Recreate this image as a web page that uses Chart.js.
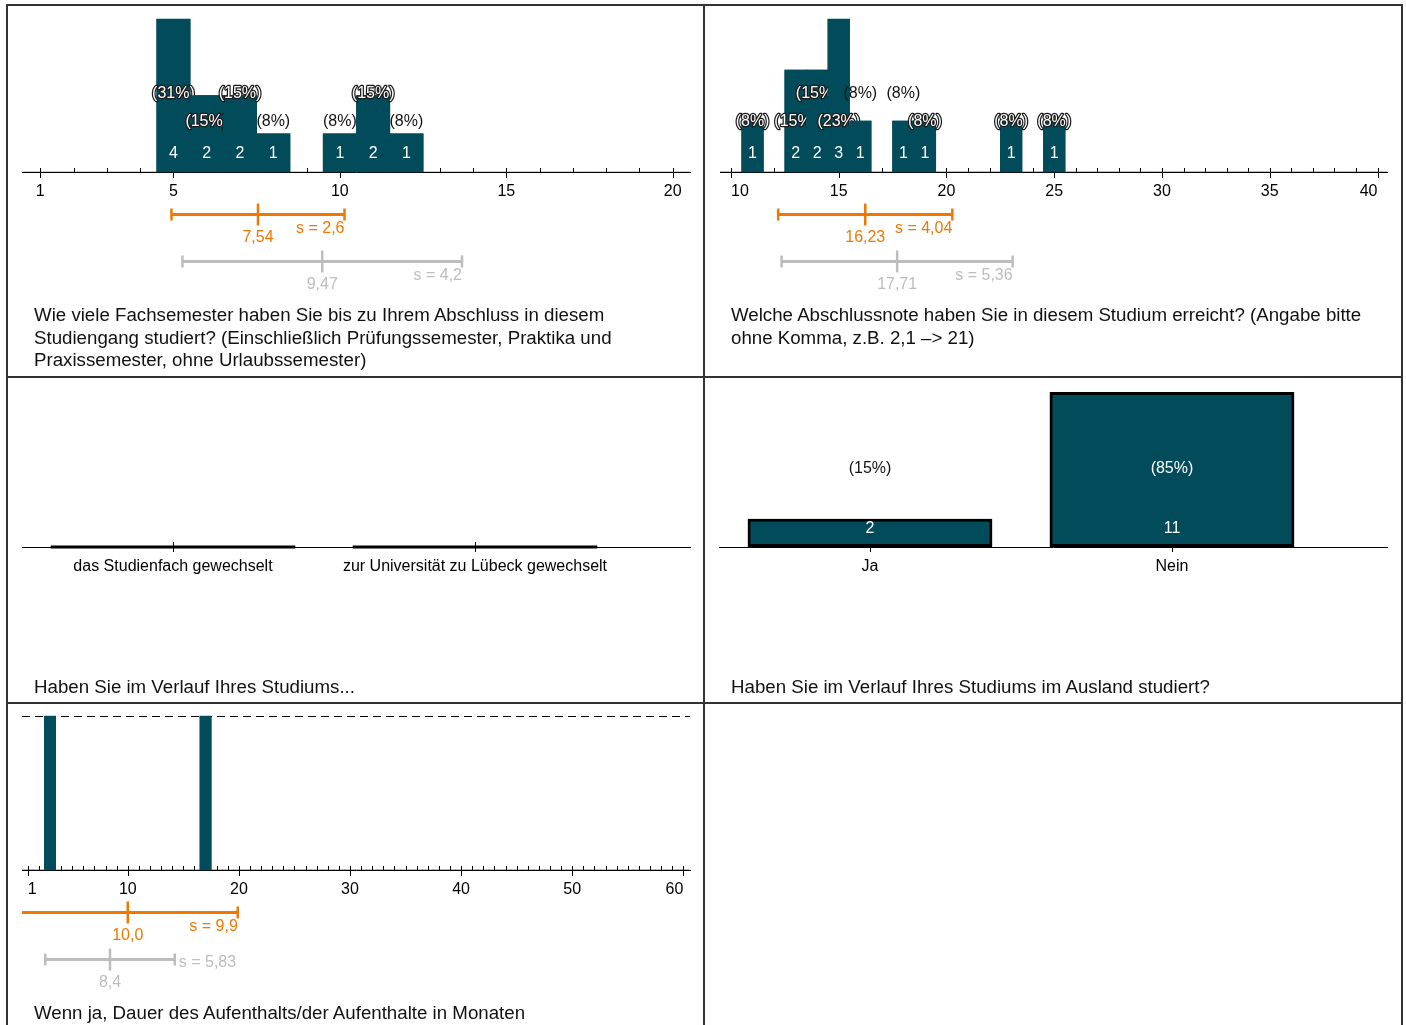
<!DOCTYPE html>
<html>
<head>
<meta charset="utf-8">
<script src="https://cdn.jsdelivr.net/npm/chart.js@4.4.1/dist/chart.umd.min.js"></script>
<style>
  html, body { margin: 0; padding: 0; background: #fff; }
  body { width: 1406px; height: 1025px; overflow: hidden; position: relative;
         font-family: "Liberation Sans", Arial, sans-serif; }
  .ln { position: absolute; background: #333; }
  canvas { position: absolute; }
  .q { position: absolute; font-size: 18.7px; line-height: 22.5px; color: #111; white-space: nowrap; }
</style>
</head>
<body>
<div class="ln" style="left:6px;top:4px;width:1397px;height:2px"></div>
<div class="ln" style="left:6px;top:4px;width:2px;height:1021px"></div>
<div class="ln" style="left:703px;top:4px;width:2px;height:1021px"></div>
<div class="ln" style="left:1401px;top:4px;width:2px;height:1021px"></div>
<div class="ln" style="left:6px;top:376px;width:1397px;height:2px"></div>
<div class="ln" style="left:6px;top:702px;width:1397px;height:2px"></div>

<canvas id="c1" width="697" height="300" style="left:7px;top:6px"></canvas>
<canvas id="c2" width="697" height="300" style="left:705px;top:6px"></canvas>
<canvas id="c3" width="697" height="300" style="left:7px;top:377px"></canvas>
<canvas id="c4" width="697" height="300" style="left:705px;top:377px"></canvas>
<canvas id="c5" width="697" height="300" style="left:7px;top:704px"></canvas>

<div class="q" id="q1" style="left:34px;top:304px"></div>
<div class="q" id="q2" style="left:731px;top:304px"></div>
<div class="q" id="q3" style="left:34px;top:676px"></div>
<div class="q" id="q4" style="left:731px;top:676px"></div>
<div class="q" id="q5" style="left:34px;top:1002px"></div>

<script>
// ---------- DATA ----------
// Panel 1: Fachsemester
const p1Values = [5, 6, 7, 8, 10, 11, 12];
const p1Counts = [4, 2, 2, 1, 1, 2, 1];
const p1Ticks = [1, 5, 10, 15, 20];
const p1Means = ['7,54', '9,47'];
const p1Sds = ['2,6', '4,2'];
const p1Question = ['Wie viele Fachsemester haben Sie bis zu Ihrem Abschluss in diesem',
  'Studiengang studiert? (Einschließlich Prüfungssemester, Praktika und',
  'Praxissemester, ohne Urlaubssemester)'];

// Panel 2: Abschlussnote
const p2Values = [11, 13, 14, 15, 16, 18, 19, 23, 25];
const p2Counts = [1, 2, 2, 3, 1, 1, 1, 1, 1];
const p2Ticks = [10, 15, 20, 25, 30, 35, 40];
const p2Means = ['16,23', '17,71'];
const p2Sds = ['4,04', '5,36'];
const p2Question = ['Welche Abschlussnote haben Sie in diesem Studium erreicht? (Angabe bitte',
  'ohne Komma, z.B. 2,1 –> 21)'];

// Panel 3: Wechsel
const p3Categories = ['das Studienfach gewechselt', 'zur Universität zu Lübeck gewechselt'];
const p3Counts = [0, 0];
const p3Question = ['Haben Sie im Verlauf Ihres Studiums...'];

// Panel 4: Ausland
const p4Categories = ['Ja', 'Nein'];
const p4Counts = [2, 11];
const p4Question = ['Haben Sie im Verlauf Ihres Studiums im Ausland studiert?'];

// Panel 5: Dauer Aufenthalt
const p5Values = [3, 17];
const p5Counts = [1, 1];
const p5Ticks = [1, 10, 20, 30, 40, 50, 60];
const p5Means = ['10,0', '8,4'];
const p5Sds = ['9,9', '5,83'];
const p5Question = ['Wenn ja, Dauer des Aufenthalts/der Aufenthalte in Monaten'];

// ---------- STYLE ----------
const BAR = '#024b5a';
const ORANGE = '#f07800';
const GREY = '#bdbdbd';
const FONT = '"Liberation Sans", Arial, sans-serif';
const FS = 16;
Chart.defaults.font.family = FONT;
Chart.defaults.font.size = FS;
Chart.defaults.color = '#000';

const num = s => parseFloat(s.replace(',', '.'));

function histData(values, counts, ticks) {
  const out = [];
  for (let v = ticks[0]; v <= ticks[ticks.length - 1]; v++) {
    const k = values.indexOf(v);
    out.push({ x: v, y: k >= 0 ? counts[k] : 0 });
  }
  return out;
}
function minorTicks(ticks) {
  const out = [];
  for (let v = ticks[0]; v <= ticks[ticks.length - 1]; v++) out.push(v);
  return out;
}

function seg(ctx, x1, y1, x2, y2) {
  ctx.beginPath(); ctx.moveTo(x1, y1); ctx.lineTo(x2, y2); ctx.stroke();
}

const deco = {
  id: 'deco',
  beforeDatasetsDraw(chart, args, o) {
    const { ctx, chartArea: ca } = chart;
    const xs = chart.scales.x;
    const base = ca.bottom;
    ctx.save();
    ctx.strokeStyle = '#000';
    ctx.lineWidth = 1;
    (o.minor || []).forEach(v => {
      const px = Math.round(xs.getPixelForValue(v)) + 0.5;
      seg(ctx, px, base - 4, px, base);
    });
    (o.major || []).forEach(v => {
      const px = Math.round(xs.getPixelForValue(v)) + 0.5;
      seg(ctx, px, base - o.majUp, px, base + o.majDown);
    });
    if (o.dashedTop) {
      ctx.setLineDash([8, 5]);
      seg(ctx, ca.left, Math.round(ca.top) + 0.5, ca.right, Math.round(ca.top) + 0.5);
      ctx.setLineDash([]);
    }
    ctx.restore();
  },
  afterDatasetsDraw(chart, args, o) {
    const { ctx, chartArea: ca } = chart;
    const base = ca.bottom;
    const meta = chart.getDatasetMeta(0);
    const ds = chart.data.datasets[0];
    const total = ds.data.reduce((a, d) => a + d.y, 0);
    ctx.save();
    meta.data.forEach((el, i) => {
      const d = ds.data[i];
      if (d.y === 0) {
        if (o.zeroLine) {
          ctx.strokeStyle = '#000'; ctx.lineWidth = 3;
          seg(ctx, el.x - el.width / 2, base, el.x + el.width / 2, base);
        }
        return;
      }
      el.draw(ctx);
      if (!o.labels) return;
      ctx.font = FS + 'px ' + FONT;
      ctx.textAlign = 'center';
      ctx.textBaseline = 'middle';
      ctx.fillStyle = '#fff';
      ctx.fillText(String(d.y), el.x, base - 18);
      const pct = '(' + Math.round(d.y / total * 100) + '%)';
      const upper = o.stagger ? ((d.x - o.staggerFrom) % 2 === 0) : true;
      const ly = base - (upper ? 78 : 50);
      if (ly + 7 > el.y) {
        ctx.lineWidth = 2.5; ctx.lineJoin = 'round';
        ctx.strokeStyle = '#1a1a1a';
        if (!o.noHalo) ctx.strokeText(pct, el.x, ly);
        ctx.fillStyle = '#fff';
        ctx.fillText(pct, el.x, ly);
      } else {
        ctx.fillStyle = '#111';
        ctx.fillText(pct, el.x, ly);
      }
    });
    ctx.restore();
  },
  afterDraw(chart, args, o) {
    if (!o.stats) return;
    const { ctx, chartArea: ca } = chart;
    const xs = chart.scales.x;
    const base = ca.bottom;
    ctx.save();
    o.stats.forEach(s => {
      const m = num(s.mean), sd = num(s.sd);
      const y = Math.round(base + s.dy) + 0.5;
      let x1 = xs.getPixelForValue(m - sd), x2 = xs.getPixelForValue(m + sd);
      const xm = xs.getPixelForValue(m);
      const cap1 = x1 >= ca.left, cap2 = x2 <= ca.right;
      x1 = Math.max(x1, ca.left); x2 = Math.min(x2, ca.right);
      ctx.strokeStyle = s.color;
      ctx.lineWidth = 3;
      seg(ctx, x1, y, x2, y);
      ctx.lineWidth = 2.5;
      if (cap1) seg(ctx, x1, y - 6, x1, y + 6);
      if (cap2) seg(ctx, x2, y - 6, x2, y + 6);
      seg(ctx, xm, y - 11, xm, y + 11);
      ctx.fillStyle = s.color;
      ctx.font = FS + 'px ' + FONT;
      ctx.textBaseline = 'middle';
      ctx.textAlign = 'center';
      ctx.fillText(s.mean, xm, y + 23);
      const sdText = 's = ' + s.sd;
      const w = ctx.measureText(sdText).width;
      const mw = ctx.measureText(s.mean).width;
      if (x2 - w < xm + mw / 2 + 2) {
        ctx.textAlign = 'left';
        ctx.fillText(sdText, x2 + 4, y + 3);
      } else {
        ctx.textAlign = 'right';
        ctx.fillText(sdText, x2, y + 14);
      }
    });
    ctx.restore();
  }
};

function makeChart(id, cfg) {
  const xScale = {
    type: 'linear',
    min: cfg.min, max: cfg.max,
    offset: false,
    grid: { display: false, drawTicks: false },
    border: { display: true, color: '#000', width: 1 },
    ticks: {
      padding: 10,
      align: cfg.align || 'center',
      maxRotation: 0,
      autoSkip: false,
      callback: cfg.tickLabel || (v => String(v))
    },
    afterBuildTicks: s => { s.ticks = cfg.majors.map(v => ({ value: v })); },
    afterFit: s => { s.height = 30; }
  };
  return new Chart(document.getElementById(id), {
    type: 'bar',
    data: {
      datasets: [{
        data: cfg.data,
        backgroundColor: BAR,
        borderColor: '#000',
        borderWidth: cfg.border || 0,
        borderSkipped: false,
        barPercentage: 1,
        categoryPercentage: cfg.catPct || 1
      }]
    },
    options: {
      responsive: false,
      animation: false,
      devicePixelRatio: 1,
      layout: { padding: cfg.pad },
      scales: {
        x: xScale,
        y: { display: false, min: 0, max: cfg.yMax }
      },
      plugins: {
        legend: { display: false },
        tooltip: { enabled: false },
        deco: cfg.deco
      }
    },
    plugins: [deco]
  });
}

// Panel 1
makeChart('c1', {
  data: histData(p1Values, p1Counts, p1Ticks),
  min: 0.45, max: 20.52, yMax: Math.max(...p1Counts),
  majors: p1Ticks,
  pad: { left: 15, right: 14, top: 13, bottom: 104 },
  deco: {
    minor: minorTicks(p1Ticks), major: p1Ticks, majUp: 4, majDown: 6,
    labels: true, stagger: true, staggerFrom: p1Ticks[0],
    stats: [
      { mean: p1Means[0], sd: p1Sds[0], color: ORANGE, dy: 42 },
      { mean: p1Means[1], sd: p1Sds[1], color: GREY, dy: 89 }
    ]
  }
});

// Panel 2
makeChart('c2', {
  data: histData(p2Values, p2Counts, p2Ticks),
  min: 9.49, max: 40.44, yMax: Math.max(...p2Counts),
  majors: p2Ticks, align: 'inner',
  pad: { left: 15, right: 15, top: 13, bottom: 104 },
  deco: {
    minor: minorTicks(p2Ticks), major: p2Ticks, majUp: 4, majDown: 6,
    labels: true, stagger: true, staggerFrom: p2Ticks[0],
    stats: [
      { mean: p2Means[0], sd: p2Sds[0], color: ORANGE, dy: 42 },
      { mean: p2Means[1], sd: p2Sds[1], color: GREY, dy: 89 }
    ]
  }
});

// Panel 3
makeChart('c3', {
  data: p3Counts.map((c, i) => ({ x: i, y: c })),
  min: -0.5, max: 1.712, yMax: 1,
  majors: p3Categories.map((c, i) => i),
  tickLabel: v => p3Categories[v],
  catPct: 0.81,
  pad: { left: 15, right: 14, top: 15, bottom: 100 },
  deco: {
    major: p3Categories.map((c, i) => i), majUp: 5, majDown: 5,
    labels: false, zeroLine: true
  }
});

// Panel 4
makeChart('c4', {
  data: p4Counts.map((c, i) => ({ x: i, y: c })),
  min: -0.5, max: 1.712, yMax: Math.max(...p4Counts),
  majors: p4Categories.map((c, i) => i),
  tickLabel: v => p4Categories[v],
  catPct: 0.81, border: 3,
  pad: { left: 14, right: 15, top: 15, bottom: 100 },
  deco: {
    major: p4Categories.map((c, i) => i), majUp: 5, majDown: 5,
    labels: true, stagger: false, noHalo: true
  }
});

// Panel 5
makeChart('c5', {
  data: histData(p5Values, p5Counts, p5Ticks),
  min: 0.48, max: 60.6, yMax: Math.max(...p5Counts),
  majors: p5Ticks, align: 'inner',
  pad: { left: 15, right: 14, top: 12, bottom: 104 },
  deco: {
    minor: minorTicks(p5Ticks), major: p5Ticks, majUp: 4, majDown: 6,
    labels: false, dashedTop: true,
    stats: [
      { mean: p5Means[0], sd: p5Sds[0], color: ORANGE, dy: 42 },
      { mean: p5Means[1], sd: p5Sds[1], color: GREY, dy: 89 }
    ]
  }
});

// Questions
[[ 'q1', p1Question ], [ 'q2', p2Question ], [ 'q3', p3Question ], [ 'q4', p4Question ], [ 'q5', p5Question ]]
  .forEach(([id, lines]) => {
    const el = document.getElementById(id);
    lines.forEach((t, i) => {
      if (i) el.appendChild(document.createElement('br'));
      el.appendChild(document.createTextNode(t));
    });
  });
</script>
</body>
</html>
